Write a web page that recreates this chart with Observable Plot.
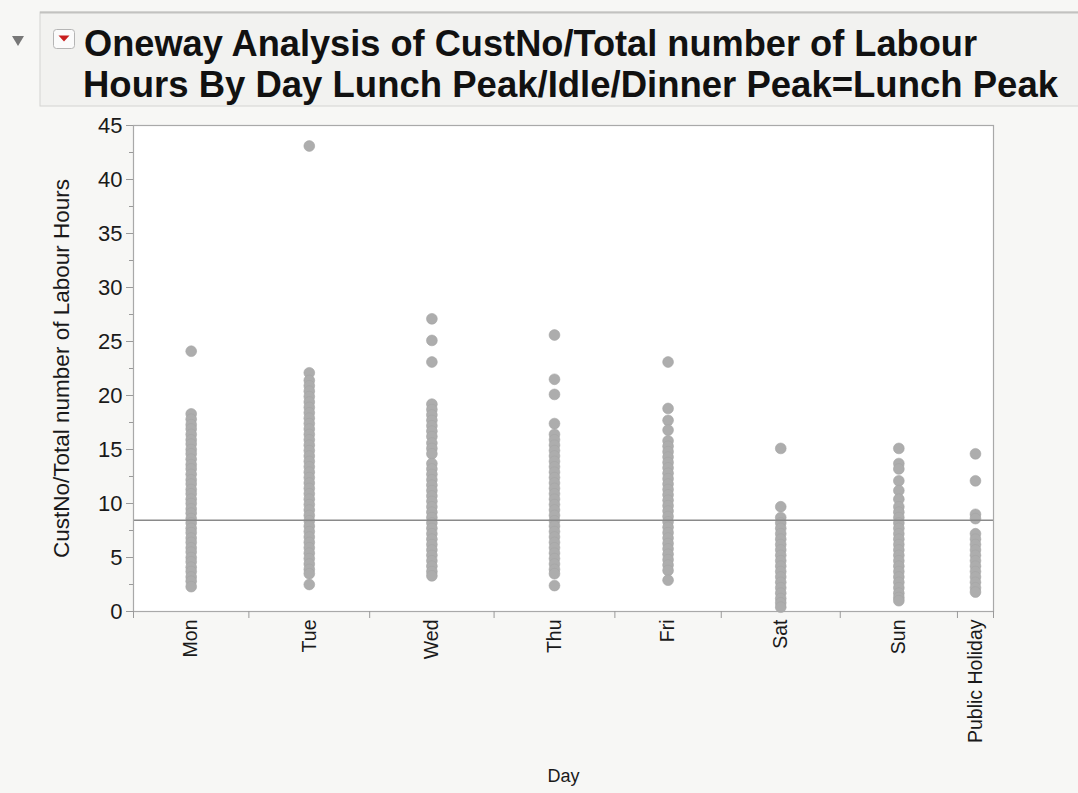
<!DOCTYPE html>
<html>
<head>
<meta charset="utf-8">
<script src="https://cdn.jsdelivr.net/npm/d3@7"></script>
<script src="https://cdn.jsdelivr.net/npm/@observablehq/plot@0.6"></script>
<style>
  html, body { margin: 0; padding: 0; background: #f7f7f5; }
  body { width: 1078px; height: 793px; overflow: hidden; font-family: "Liberation Sans", Arial, sans-serif; }
  #header { display: block; }
  #chart svg { display: block; background: transparent; }
</style>
</head>
<body>
<svg id="header" width="1078" height="110"></svg>
<div id="chart"></div>
<script>
// ---------- data ----------
const titleLines = [
  "Oneway Analysis of CustNo/Total number of Labour",
  "Hours By Day Lunch Peak/Idle/Dinner Peak=Lunch Peak"
];
const days = ["Mon", "Tue", "Wed", "Thu", "Fri", "Sat", "Sun", "Public Holiday"];
// estimated group sizes (JMP draws each group's band proportional to its size)
const dayCounts = [64, 67, 69, 67, 59, 66, 65, 20];
const mon = [24.1, 18.3, 17.8, 17.3, 16.9, 16.4, 15.9, 15.5, 15.0, 14.6, 14.1, 13.6, 13.2, 12.7, 12.2, 11.8, 11.3, 10.9, 10.4, 10.0, 9.5, 9.1, 8.6, 8.2, 7.7, 7.3, 6.8, 6.4, 5.9, 5.5, 5.0, 4.6, 4.1, 3.7, 3.2, 2.8, 2.3];
const tue = [43.1, 22.1, 21.4, 20.9, 20.4, 19.9, 19.4, 18.9, 18.4, 17.9, 17.4, 16.9, 16.4, 15.9, 15.4, 14.9, 14.4, 13.9, 13.4, 12.9, 12.4, 11.9, 11.4, 10.9, 10.4, 9.9, 9.4, 8.9, 8.4, 7.9, 7.4, 6.9, 6.4, 5.9, 5.4, 4.9, 4.4, 3.9, 3.5, 2.5];
const wed = [27.1, 25.1, 23.1, 19.2, 18.7, 18.2, 17.7, 17.2, 16.7, 16.2, 15.6, 15.1, 14.6, 13.7, 13.2, 12.7, 12.2, 11.7, 11.2, 10.7, 10.2, 9.7, 9.2, 8.7, 8.2, 7.7, 7.2, 6.7, 6.2, 5.7, 5.2, 4.7, 4.2, 3.7, 3.3];
const thu = [25.6, 21.5, 20.1, 17.4, 16.4, 15.9, 15.4, 14.9, 14.4, 13.9, 13.4, 12.9, 12.4, 11.9, 11.4, 10.9, 10.4, 9.9, 9.4, 8.9, 8.4, 7.9, 7.4, 6.9, 6.4, 5.9, 5.4, 4.9, 4.4, 3.9, 3.5, 2.4];
const fri = [23.1, 18.8, 17.7, 16.8, 15.8, 15.3, 14.8, 14.3, 13.8, 13.3, 12.8, 12.3, 11.8, 11.3, 10.8, 10.3, 9.8, 9.3, 8.8, 8.3, 7.8, 7.3, 6.8, 6.3, 5.8, 5.3, 4.8, 4.3, 3.8, 2.9];
const sat = [15.1, 9.7, 8.7, 8.2, 7.7, 7.2, 6.7, 6.2, 5.7, 5.2, 4.7, 4.2, 3.7, 3.2, 2.7, 2.2, 1.7, 1.2, 0.8, 0.4];
const sun = [15.1, 13.7, 13.2, 12.1, 11.2, 10.4, 9.7, 9.2, 8.7, 8.2, 7.7, 7.2, 6.7, 6.2, 5.7, 5.2, 4.7, 4.2, 3.7, 3.2, 2.7, 2.2, 1.7, 1.3, 1.0];
const publicHoliday = [14.6, 12.1, 9.0, 8.6, 7.2, 6.7, 6.2, 5.7, 5.2, 4.7, 4.2, 3.7, 3.2, 2.7, 2.2, 1.8];
const grandMean = 8.45;
const yTicks = [0, 5, 10, 15, 20, 25, 30, 35, 40, 45];
const yMinorTicks = [2.5, 7.5, 12.5, 17.5, 22.5, 27.5, 32.5, 37.5, 42.5];
const yLabel = "CustNo/Total number of Labour Hours";
const xLabel = "Day";

// ---------- header ----------
const NS = "http://www.w3.org/2000/svg";
const hdr = document.getElementById("header");
function el(tag, attrs, parent) {
  const e = document.createElementNS(NS, tag);
  for (const k in attrs) e.setAttribute(k, attrs[k]);
  (parent || hdr).appendChild(e);
  return e;
}
el("rect", {x: 40, y: 12, width: 1045, height: 94, fill: "#f2f2f0", stroke: "#d4d4d2", "stroke-width": 1});
el("line", {x1: 40, x2: 1078, y1: 12.5, y2: 12.5, stroke: "#c2c2c0", "stroke-width": 2});
el("polygon", {points: "12,36 24,36 18,46", fill: "#777"});
el("rect", {x: 53.5, y: 29.5, width: 21, height: 19, rx: 3, fill: "#fbfbfb", stroke: "#b5b5b5"});
el("polygon", {points: "58.5,35.5 69.5,35.5 64,41.5", fill: "#c81e1e"});
const titleWidths = [893, 975];
const titleX = [84, 83];
const titleY = [56, 97];
titleLines.forEach((t, i) => {
  const tx = el("text", {
    x: titleX[i], y: titleY[i],
    "font-family": "'Liberation Sans Narrow', 'Liberation Sans', Arial, sans-serif",
    "font-weight": "bold", "font-size": 37, fill: "#111",
    textLength: titleWidths[i], lengthAdjust: "spacingAndGlyphs"
  });
  tx.textContent = t;
});

// ---------- chart ----------
const groups = [mon, tue, wed, thu, fri, sat, sun, publicHoliday];
const total = d3.sum(dayCounts);
const boundaries = [0, ...d3.cumsum(dayCounts)];
const centers = dayCounts.map((c, i) => boundaries[i] + c / 2);
const nameByCenter = new Map(centers.map((c, i) => [c, days[i]]));
const rows = groups.flatMap((vals, i) => vals.map(v => ({day: days[i], x: centers[i], y: v})));

const chart = Plot.plot({
  width: 1078,
  height: 683,
  marginTop: 15,
  marginBottom: 182,
  marginLeft: 133,
  marginRight: 85,
  style: {fontFamily: "'Liberation Sans', Arial, sans-serif", color: "#1a1a1a", background: "transparent"},
  x: {type: "linear", domain: [0, total]},
  y: {domain: [0, 45]},
  marks: [
    Plot.frame({fill: "white", stroke: null}),
    Plot.dot(rows, {x: "x", y: "y", r: 5.4, fill: "#adadad", stroke: "#a4a4a4", strokeWidth: 0.6}),
    Plot.ruleY([grandMean], {stroke: "#8a8a8a", strokeWidth: 1.6}),
    Plot.frame({stroke: "#a9a9a9", strokeWidth: 1.2}),
    Plot.axisY(yTicks, {tickSize: 7, tickPadding: 4, fontSize: 22, stroke: "#9a9a9a",
      label: yLabel, labelAnchor: "center", labelOffset: 80, labelArrow: "none"}),
    Plot.axisY(yMinorTicks, {tickSize: 4, tickFormat: () => "", stroke: "#9a9a9a", label: null}),
    Plot.axisX(boundaries, {tickSize: 7, tickFormat: () => "", stroke: "#9a9a9a", label: null}),
    Plot.axisX(centers, {tickSize: 0, tickPadding: 8, tickRotate: -90, fontSize: 19.5,
      tickFormat: d => nameByCenter.get(d),
      label: xLabel, labelAnchor: "center", labelOffset: 170, labelArrow: "none"})
  ]
});
document.getElementById("chart").appendChild(chart);
// label font sizes
chart.querySelectorAll('g[aria-label="y-axis label"] text').forEach(t => t.setAttribute("font-size", 22.5));
chart.querySelectorAll('g[aria-label="x-axis label"] text').forEach(t => t.setAttribute("font-size", 18));
</script>
</body>
</html>
